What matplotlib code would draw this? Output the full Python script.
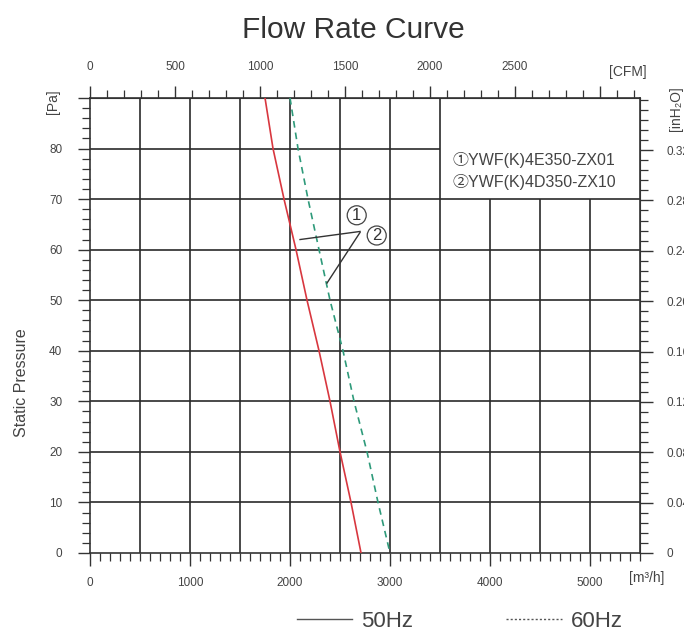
import matplotlib
matplotlib.use("Agg")
from matplotlib import pyplot as plt
from matplotlib.lines import Line2D
from matplotlib.ticker import MultipleLocator, FixedLocator

# donnees
pressure = [90, 80, 70, 60, 50, 40, 30, 20, 10, 0]  # Pa
flow_50hz = [1750, 1830, 1940, 2060, 2170, 2290, 2400, 2500, 2610, 2710]  # m3/h
flow_60hz = [2000, 2080, 2180, 2290, 2400, 2530, 2640, 2770, 2880, 3000]  # m3/h

models = ["\u2460YWF(K)4E350-ZX01", "\u2461YWF(K)4D350-ZX10"]
hz_labels = ["50Hz", "60Hz"]

# reperes (1) et (2) avec leurs traits
marker_labels = ["1", "2"]
marker_pos = [(2667, 66.8), (2867, 62.8)]
leader_start = [(2100, 62.0), (2370, 53.4)]
leader_end = [(2700, 63.6), (2700, 63.4)]

M3H_PER_CFM = 1.699
PA_PER_INH2O = 249.09

grid_full_x = [500, 1000, 1500, 2000, 2500, 3000, 3500]
grid_low_x = [4000, 4500, 5000]
grid_full_y = [10, 20, 30, 40, 50, 60, 70]
grid_short_y = [80]

pa_ticks = [0, 10, 20, 30, 40, 50, 60, 70, 80, 90]
pa_labels = ["0", "10", "20", "30", "40", "50", "60", "70", "80", ""]

FONT = ["Liberation Sans", "Noto Sans CJK SC", "DejaVu Sans"]
plt.rcParams["font.family"] = FONT
TXT = "#444444"
GRID = "#2a2a2a"

fig = plt.figure(figsize=(6.84, 6.33), dpi=100)
ax = fig.add_axes([0.1316, 0.1264, 0.8041, 0.7188])
ax.set_xlim(0, 5500)
ax.set_ylim(0, 90)

# grille
ax.vlines(grid_full_x, 0, 90, color=GRID, lw=1.2, zorder=1)
ax.vlines(grid_low_x, 0, 70, color=GRID, lw=1.2, zorder=1)
ax.hlines(grid_full_y, 0, 5500, color=GRID, lw=1.2, zorder=1)
ax.hlines(grid_short_y, 0, 3500, color=GRID, lw=1.2, zorder=1)

# courbes
ax.plot(flow_50hz, pressure, color="#d8373f", lw=1.2, zorder=3)
ax.plot(flow_60hz, pressure, color="#2e9a7a", lw=1.2, ls=(0, (4, 3)), zorder=3)

for (x0, y0), (x1, y1) in zip(leader_start, leader_end):
    ax.plot([x0, x1], [y0, y1], color="#333333", lw=1.0, zorder=4)
for lab, (x, y) in zip(marker_labels, marker_pos):
    ax.text(x, y, lab, ha="center", va="center", fontsize=12, color="#333333",
            zorder=5,
            bbox=dict(boxstyle="circle,pad=0.12", fc="white", ec="#444444", lw=0.9))

# noms des modeles
ax.text(3620, 77.7, models[0], fontsize=11.5, color=TXT, va="center", family=FONT)
ax.text(3620, 73.4, models[1], fontsize=11.5, color=TXT, va="center", family=FONT)

# axes
for sp in ax.spines.values():
    sp.set_color("#333333")
    sp.set_linewidth(1.2)

ax.xaxis.set_major_locator(MultipleLocator(1000))
ax.xaxis.set_minor_locator(MultipleLocator(100))
ax.set_yticks(pa_ticks)
ax.set_yticklabels(pa_labels)
ax.yaxis.set_minor_locator(MultipleLocator(2))
ax.tick_params(axis="both", which="major", direction="out", length=9, width=1.0,
               color="#333333", labelsize=8.5, labelcolor=TXT)
ax.tick_params(axis="both", which="minor", direction="out", length=6, width=0.9,
               color="#333333")
ax.tick_params(axis="x", which="major", pad=8)
ax.tick_params(axis="y", which="major", pad=11)

top = ax.secondary_xaxis("top", functions=(lambda v: v / M3H_PER_CFM,
                                           lambda v: v * M3H_PER_CFM))
top.xaxis.set_major_locator(FixedLocator([0, 500, 1000, 1500, 2000, 2500, 3000]))
top.xaxis.set_minor_locator(MultipleLocator(100))
top.set_xticklabels(["0", "500", "1000", "1500", "2000", "2500", ""])
top.tick_params(which="major", direction="out", length=9, width=1.0, color="#333333",
                labelsize=8.5, labelcolor=TXT, pad=9)
top.tick_params(which="minor", direction="out", length=6, width=0.9, color="#333333")
top.spines["top"].set_color("#333333")

right = ax.secondary_yaxis("right", functions=(lambda v: v / PA_PER_INH2O,
                                               lambda v: v * PA_PER_INH2O))
right_ticks = [0, 0.04, 0.08, 0.12, 0.16, 0.20, 0.24, 0.28, 0.32]
right.yaxis.set_major_locator(FixedLocator(right_ticks))
right.yaxis.set_minor_locator(MultipleLocator(0.008))
right.set_yticklabels(["0"] + [f"{t:.2f}" for t in right_ticks[1:]])
right.tick_params(which="major", direction="out", length=9, width=1.0, color="#333333",
                  labelsize=8.5, labelcolor=TXT, pad=10)
right.tick_params(which="minor", direction="out", length=6, width=0.9, color="#333333")
right.spines["right"].set_color("#333333")

# libelles
fig.text(0.517, 0.953, "Flow Rate Curve", ha="center", va="center", fontsize=21.5,
         color="#333333")
fig.text(0.032, 0.395, "Static Pressure", rotation=90, ha="center", va="center",
         fontsize=11.5, color=TXT)
fig.text(0.0775, 0.839, "[Pa]", rotation=90, ha="center", va="center",
         fontsize=10, color=TXT)
fig.text(0.946, 0.087, "[m\u00b3/h]", ha="center", va="center", fontsize=10, color=TXT)
fig.text(0.918, 0.886, "[CFM]", ha="center", va="center", fontsize=10, color=TXT)
fig.text(0.988, 0.829, "[inH\u2082O]", rotation=90, ha="center", va="center",
         fontsize=10, color=TXT)

handles = [Line2D([], [], color="#555555", lw=1.0, ls="-"),
           Line2D([], [], color="#555555", lw=1.0, ls=(0, (1.5, 1.5)))]
fig.legend(handles, hz_labels, loc="center", bbox_to_anchor=(0.672, 0.018),
           ncol=2, frameon=False, fontsize=16, handlelength=2.5, handletextpad=0.4,
           columnspacing=4.2, labelcolor=TXT)

fig.savefig("out.png", dpi=100)
